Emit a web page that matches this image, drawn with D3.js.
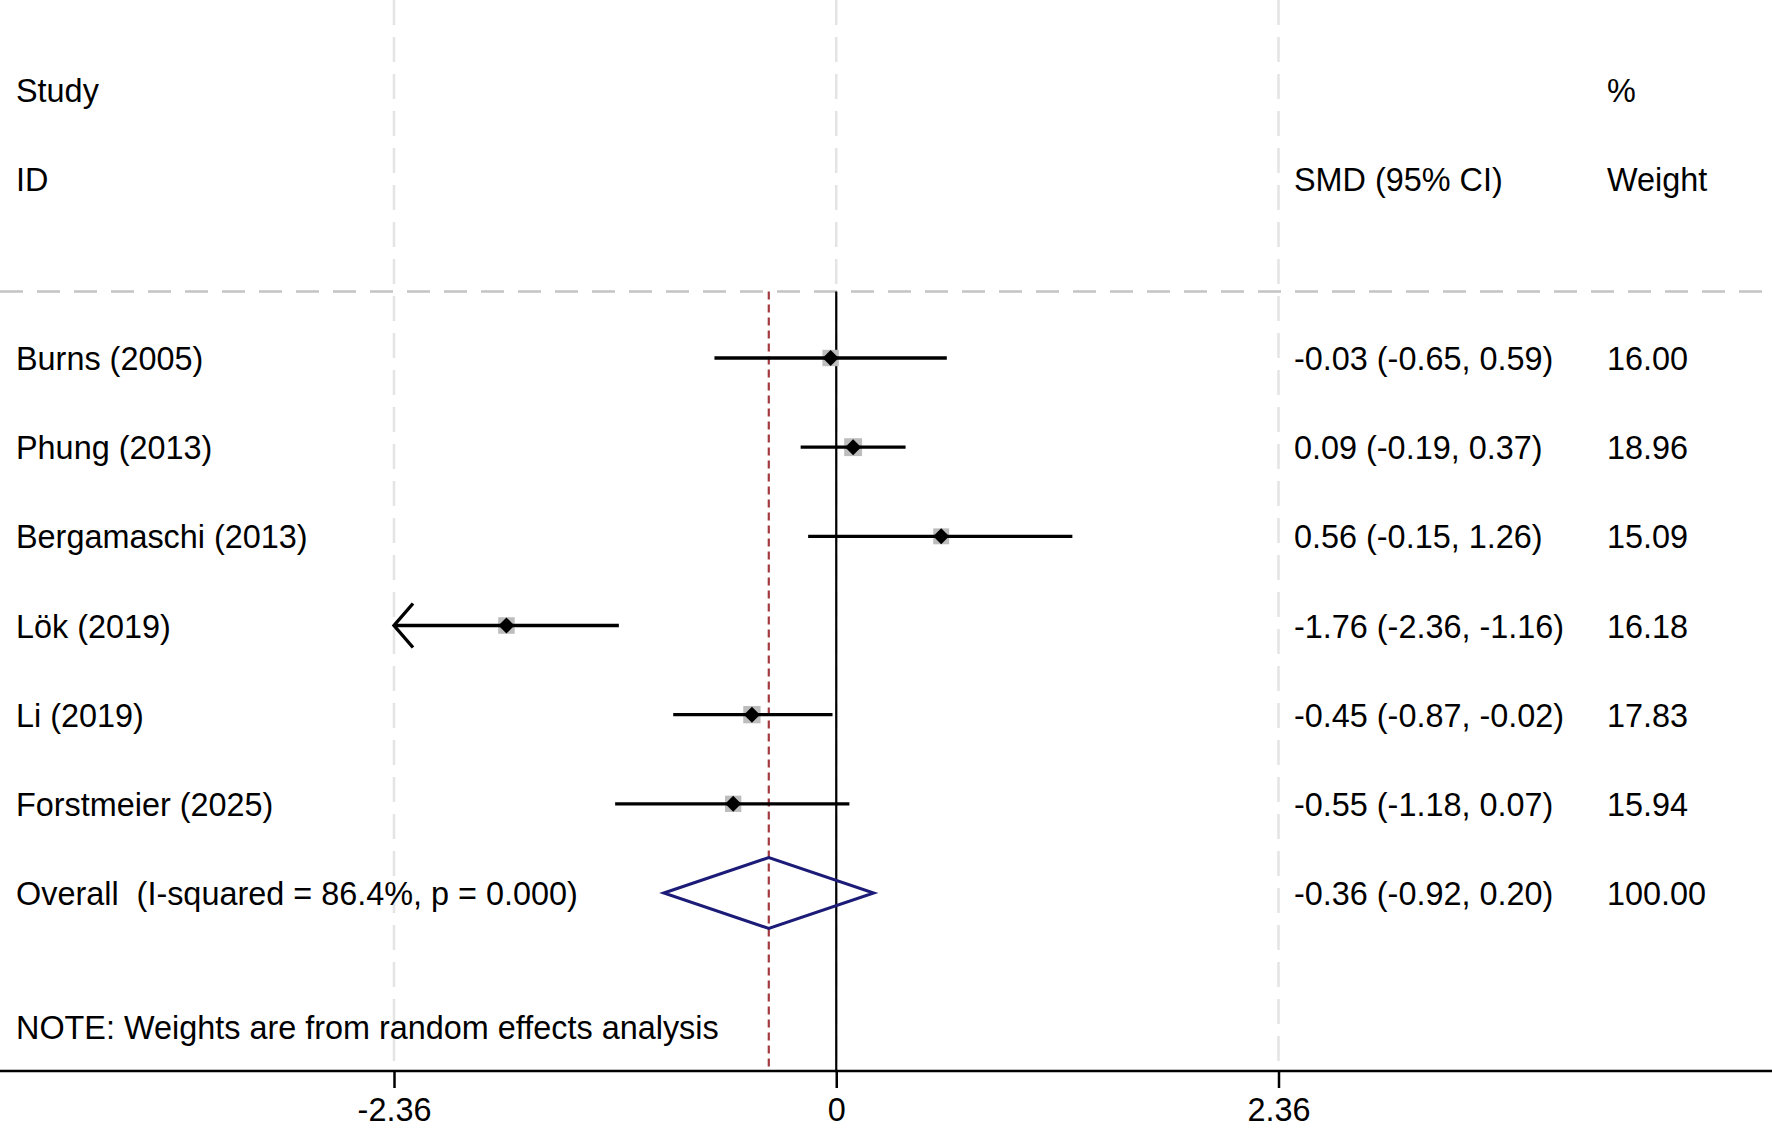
<!DOCTYPE html>
<html>
<head>
<meta charset="utf-8">
<script src="https://cdn.jsdelivr.net/npm/d3@7"></script>
<style>
  body { margin: 0; background: #fff; }
  text { font-family: "Liberation Sans", Arial, sans-serif; fill: #000; }
</style>
</head>
<body>
<div id="chart"></div>
<script>
'use strict'
/* Datos del forest plot */
var studies = ['Burns (2005)', 'Phung (2013)', 'Bergamaschi (2013)', 'Lök (2019)', 'Li (2019)', 'Forstmeier (2025)'];
var smd = [-0.03, 0.09, 0.56, -1.76, -0.45, -0.55];
var lower = [-0.65, -0.19, -0.15, -2.36, -0.87, -1.18];
var upper = [0.59, 0.37, 1.26, -1.16, -0.02, 0.07];
var weights = [16.00, 18.96, 15.09, 16.18, 17.83, 15.94];
var overall = [-0.36, -0.92, 0.20];   // estimate, lower, upper
var overallWeight = 100.00;
var overallLabel = 'Overall  (I-squared = 86.4%, p = 0.000)';
var xTicks = [-2.36, 0, 2.36];

var w = 1772;
var h = 1129;
var fs = 32.4;
var axisY = 1071;
var headY = 291.5;

function dibujo(){
	var svg = d3.select('#chart')
				.append('svg')
				.attr('width', w)
				.attr('height', h);

	// escala x (SMD) y escala y (filas)
	var xScale = d3.scaleLinear()
				   .domain([-2.36, 2.36])
				   .range([394, 1278.5]);
	var yScale = d3.scaleLinear()
				   .domain([0, studies.length])
				   .range([358, 893]);

	// rejilla vertical gris discontinua
	svg.selectAll('line.grid')
	   .data(xTicks)
	   .enter()
	   .append('line')
	   .attr('class', 'grid')
	   .attr('x1', d => xScale(d))
	   .attr('x2', d => xScale(d))
	   .attr('y1', 0)
	   .attr('y2', axisY)
	   .attr('stroke', '#e4e4e4')
	   .attr('stroke-width', 2.5)
	   .attr('stroke-dasharray', '25,12');

	// linea horizontal de cabecera
	svg.append('line')
	   .attr('x1', 0).attr('x2', w)
	   .attr('y1', headY).attr('y2', headY)
	   .attr('stroke', '#c4c4c4')
	   .attr('stroke-width', 2.5)
	   .attr('stroke-dasharray', '23,14');

	// linea de no efecto
	svg.append('line')
	   .attr('x1', xScale(0)).attr('x2', xScale(0))
	   .attr('y1', headY).attr('y2', axisY)
	   .attr('stroke', '#000')
	   .attr('stroke-width', 2.2);

	// linea del efecto global (roja)
	svg.append('line')
	   .attr('x1', xScale(overall[0])).attr('x2', xScale(overall[0]))
	   .attr('y1', headY).attr('y2', axisY)
	   .attr('stroke', '#a33a3f')
	   .attr('stroke-width', 2.2)
	   .attr('stroke-dasharray', '8,5');

	var rows = studies.map((s, i) => ({
		name: s, est: smd[i], lo: lower[i], hi: upper[i], wt: weights[i], i: i
	}));

	// cajas de peso
	svg.selectAll('rect.box')
	   .data(rows)
	   .enter()
	   .append('rect')
	   .attr('class', 'box')
	   .attr('x', d => xScale(d.est) - 2.05 * Math.sqrt(d.wt))
	   .attr('y', d => yScale(d.i) - 2.05 * Math.sqrt(d.wt))
	   .attr('width', d => 4.1 * Math.sqrt(d.wt))
	   .attr('height', d => 4.1 * Math.sqrt(d.wt))
	   .attr('fill', '#bdbdbd');

	// intervalos de confianza
	svg.selectAll('line.ci')
	   .data(rows)
	   .enter()
	   .append('line')
	   .attr('class', 'ci')
	   .attr('x1', d => xScale(Math.max(d.lo, -2.36)))
	   .attr('x2', d => xScale(Math.min(d.hi, 2.36)))
	   .attr('y1', d => yScale(d.i))
	   .attr('y2', d => yScale(d.i))
	   .attr('stroke', '#000')
	   .attr('stroke-width', 3.4);

	// flechas cuando el IC llega al limite
	svg.selectAll('path.arrow')
	   .data(rows.filter(d => d.lo <= -2.36))
	   .enter()
	   .append('path')
	   .attr('class', 'arrow')
	   .attr('d', d => {
	   		var x = xScale(-2.36), y = yScale(d.i);
	   		return 'M' + (x + 19) + ',' + (y - 22) + 'L' + x + ',' + y + 'L' + (x + 19) + ',' + (y + 22);
	   })
	   .attr('fill', 'none')
	   .attr('stroke', '#000')
	   .attr('stroke-width', 3.4);

	// estimaciones puntuales (rombos negros)
	var r = 8;
	svg.selectAll('path.pt')
	   .data(rows)
	   .enter()
	   .append('path')
	   .attr('class', 'pt')
	   .attr('d', 'M0,' + (-r) + 'L' + r + ',0L0,' + r + 'L' + (-r) + ',0Z')
	   .attr('transform', d => 'translate(' + xScale(d.est) + ',' + yScale(d.i) + ')')
	   .attr('fill', '#000');

	// rombo global
	var oy = yScale(studies.length);
	svg.append('path')
	   .attr('d', 'M' + xScale(overall[1]) + ',' + oy +
	   			 'L' + xScale(overall[0]) + ',' + (oy - 35.5) +
	   			 'L' + xScale(overall[2]) + ',' + oy +
	   			 'L' + xScale(overall[0]) + ',' + (oy + 35.5) + 'Z')
	   .attr('fill', 'none')
	   .attr('stroke', '#1c1c78')
	   .attr('stroke-width', 3);

	// textos de cabecera
	var heads = [
		{t: 'Study', x: 16, y: 102}, {t: 'ID', x: 16, y: 191},
		{t: '%', x: 1607, y: 102}, {t: 'SMD (95% CI)', x: 1294, y: 191},
		{t: 'Weight', x: 1607, y: 191},
		{t: 'NOTE: Weights are from random effects analysis', x: 16, y: 1039}
	];
	svg.selectAll('text.head')
	   .data(heads)
	   .enter()
	   .append('text')
	   .attr('class', 'head')
	   .attr('x', d => d.x)
	   .attr('y', d => d.y)
	   .attr('font-size', fs)
	   .text(d => d.t);

	// columnas de texto por fila
	var f2 = v => v.toFixed(2);
	var table = rows.map(d => ({
		i: d.i, name: d.name,
		ci: f2(d.est) + ' (' + f2(d.lo) + ', ' + f2(d.hi) + ')',
		wt: f2(d.wt)
	}));
	table.push({
		i: studies.length, name: overallLabel,
		ci: f2(overall[0]) + ' (' + f2(overall[1]) + ', ' + f2(overall[2]) + ')',
		wt: f2(overallWeight)
	});
	[['name', 16], ['ci', 1294], ['wt', 1607]].forEach(c => {
		svg.selectAll('text.col-' + c[0])
		   .data(table)
		   .enter()
		   .append('text')
		   .attr('class', 'col-' + c[0])
		   .attr('x', c[1])
		   .attr('y', d => yScale(d.i) + 12)
		   .attr('font-size', fs)
		   .style('white-space', 'pre')
		   .text(d => d[c[0]]);
	});

	// eje x
	svg.append('line')
	   .attr('x1', 0).attr('x2', w)
	   .attr('y1', axisY).attr('y2', axisY)
	   .attr('stroke', '#000')
	   .attr('stroke-width', 2.5);
	var axis = svg.append('g')
				  .attr('transform', 'translate(0,' + axisY + ')')
				  .call(d3.axisBottom(xScale)
				  		  .tickValues(xTicks)
				  		  .tickSize(17)
				  		  .tickPadding(10)
				  		  .tickFormat(d => d === 0 ? '0' : d.toFixed(2)));
	axis.select('.domain').remove();
	axis.selectAll('.tick line').attr('stroke', '#000').attr('stroke-width', 2.5);
	axis.selectAll('.tick text')
		.attr('font-size', fs)
		.attr('font-family', '"Liberation Sans", Arial, sans-serif')
		.attr('fill', '#000');
}

dibujo();
</script>
</body>
</html>
